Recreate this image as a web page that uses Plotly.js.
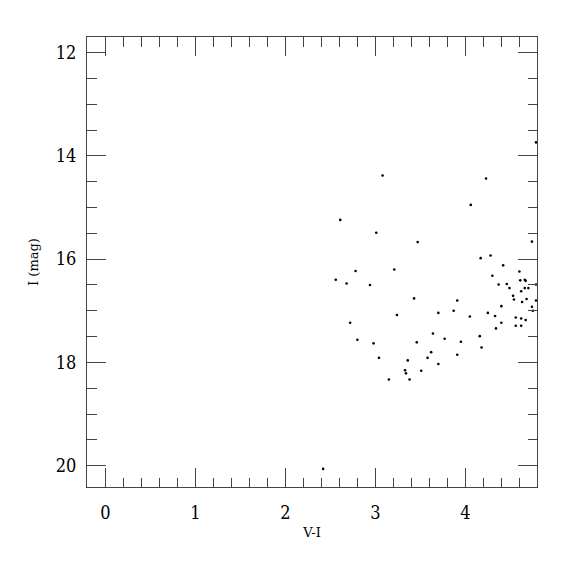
<!DOCTYPE html>
<html>
<head>
<meta charset="utf-8">
<script src="https://cdn.plot.ly/plotly-3.0.1.min.js"></script>
<style>html,body{margin:0;padding:0;background:#fff;}#chart{width:575px;height:575px;}</style>
</head>
<body>
<div id="chart"></div>
<script>
// V-I colour index
var colourVI = [
  2.42, 3.08, 2.61, 3.01, 3.47, 2.78, 3.21, 2.56, 2.68, 2.94,
  3.43, 3.24, 3.70, 2.72, 3.64, 2.80, 2.98, 3.46, 3.77, 3.62,
  3.58, 3.04, 3.36, 3.70, 3.33, 3.34, 3.51, 3.15, 3.38,
  4.785, 4.23, 4.06, 4.74, 4.17, 4.28, 4.42, 4.60, 4.30, 4.61,
  4.66, 4.67, 4.785, 4.37, 4.46, 4.49, 4.62, 4.66, 4.70, 4.53,
  4.54, 4.68, 4.63, 4.785, 3.91, 4.40, 4.74, 4.75, 3.87, 4.25,
  4.05, 4.33, 4.56, 4.62, 4.67, 4.40, 4.56, 4.62, 4.34,
  3.95, 4.16, 4.18, 3.91
];
// I magnitude
var magI = [
  20.06, 14.38, 15.24, 15.49, 15.67, 16.23, 16.20, 16.40, 16.47, 16.50,
  16.76, 17.08, 17.04, 17.23, 17.44, 17.56, 17.63, 17.61, 17.54, 17.80,
  17.91, 17.91, 17.96, 18.03, 18.15, 18.21, 18.16, 18.33, 18.33,
  13.74, 14.44, 14.95, 15.66, 15.98, 15.93, 16.12, 16.24, 16.32, 16.41,
  16.40, 16.42, 16.49, 16.49, 16.48, 16.56, 16.62, 16.56, 16.56, 16.71,
  16.78, 16.77, 16.83, 16.80, 16.80, 16.91, 16.92, 17.00, 17.00, 17.04,
  17.11, 17.10, 17.13, 17.15, 17.18, 17.23, 17.29, 17.29, 17.34,
  17.60, 17.49, 17.71, 17.85
];
var xTitle = "V-I";
var yTitle = "I (mag)";

var tickFam = "DejaVu Serif Condensed, DejaVu Serif, serif";
var titleFam = "DejaVu Serif, serif";
var axisCommon = {
  showgrid: false, zeroline: false,
  showline: true, linecolor: '#444', linewidth: 1,
  mirror: 'allticks', ticks: 'inside', ticklen: 19, tickwidth: 1, tickcolor: '#444',
  tickfont: {family: tickFam, size: 18, color: '#000'}
};

var trace = {
  x: colourVI, y: magI, type: 'scatter', mode: 'markers',
  marker: {color: '#000', size: 2.6, symbol: 'circle'},
  cliponaxis: false, hoverinfo: 'none'
};

var layout = {
  width: 575, height: 575,
  margin: {l: 87, r: 38, t: 37, b: 88},
  paper_bgcolor: '#fff', plot_bgcolor: '#fff',
  showlegend: false,
  xaxis: Object.assign({}, axisCommon, {
    range: [-0.204, 4.796], autorange: false, dtick: 1, tick0: 0,
    minor: {dtick: 0.2, ticks: 'inside', ticklen: 9.5, tickcolor: '#444', tickwidth: 1},
    ticklabelstandoff: 9,
    title: {text: xTitle, font: {family: titleFam, size: 13, color: '#000'}, standoff: 6}
  }),
  yaxis: Object.assign({}, axisCommon, {
    range: [20.41, 11.70], autorange: false, dtick: 2, tick0: 0,
    minor: {dtick: 0.5, ticks: 'inside', ticklen: 9.5, tickcolor: '#444', tickwidth: 1},
    ticklabelstandoff: 6,
    title: {text: yTitle, font: {family: titleFam, size: 13, color: '#000'}, standoff: 14}
  })
};

Plotly.newPlot('chart', [trace], layout, {staticPlot: true, displayModeBar: false});
</script>
</body>
</html>
